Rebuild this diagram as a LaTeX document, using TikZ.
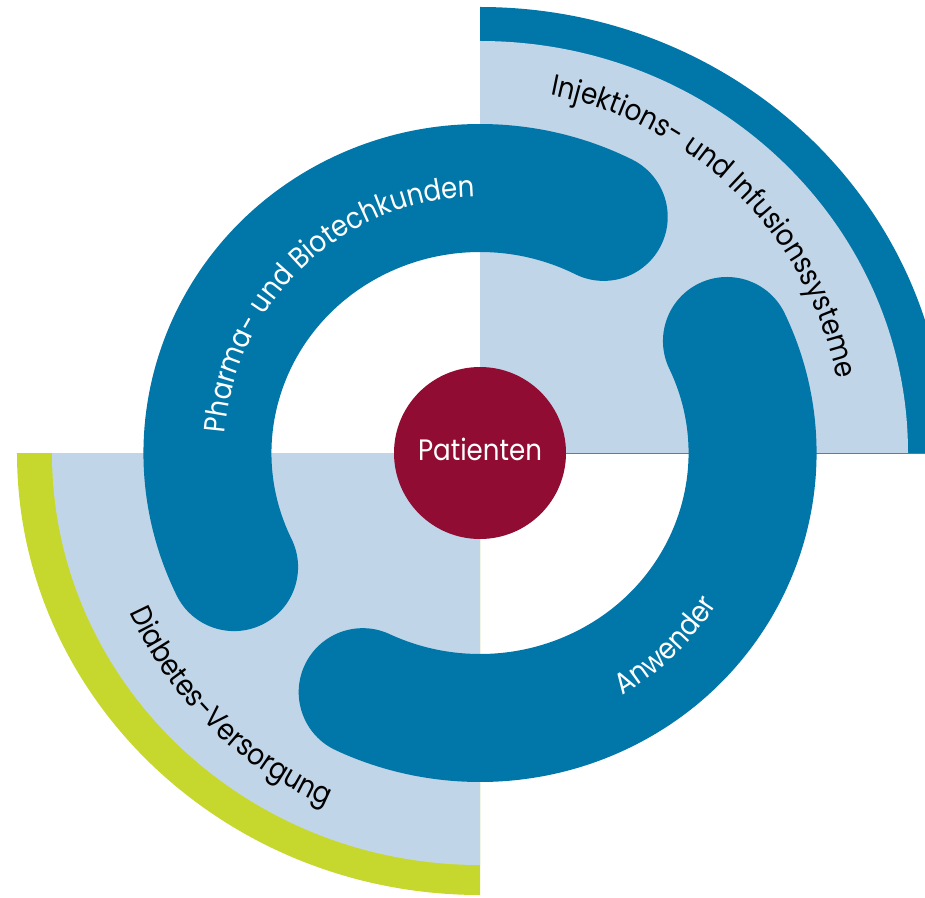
\documentclass[tikz,border=0pt]{standalone}
\usepackage{fontspec}
\setmainfont{Poppins}[FakeStretch=0.885]
\usetikzlibrary{decorations.text}
\definecolor{dblue}{RGB}{1,118,168}
\definecolor{lblue}{RGB}{193,213,232}
\definecolor{lgreen}{RGB}{198,216,46}
\definecolor{maroon}{RGB}{145,12,50}
\definecolor{edgeblue}{RGB}{60,135,190}
\newcommand\lbl{\fontsize{29.5}{36}\selectfont}
\begin{document}
\begin{tikzpicture}[x=1pt,y=1pt,
  ringarc/.style={draw=dblue, line width=128pt, line cap=round},
  arclabel/.style={decorate, decoration={text along path, text align=center, text={#1}}}]
\useasboundingbox (-480,-444) rectangle (445,453);
\clip (-480,-444) rectangle (445,453);
% top-right quadrant
\fill[dblue] (0,0) -- (0,446) arc[start angle=90, end angle=0, x radius=466pt, y radius=446pt] -- cycle;
\fill[lblue] (0,0) -- (0,412) arc[start angle=90, end angle=0, x radius=428pt, y radius=412pt] -- cycle;
\draw[edgeblue, line width=1pt] (0,0) -- (445,0);
% bottom-left quadrant
\fill[lgreen] (0,0) -- (-463,0) arc[start angle=180, end angle=270, x radius=463pt, y radius=442pt] -- cycle;
\fill[lblue] (0,0) -- (-428,0) arc[start angle=180, end angle=270, x radius=428pt, y radius=412pt] -- cycle;
% ring
\draw[ringarc] (205.5:272.5pt and 265pt) arc[start angle=205.5, end angle=63, x radius=272.5pt, y radius=265pt];
\draw[ringarc] (25:272.5pt and 265pt) arc[start angle=25, end angle=-115.5, x radius=272.5pt, y radius=265pt];
% center
\node (patc) [circle, fill=maroon, minimum size=172pt, inner sep=0pt] at (0,0) {};
\node (pat) [anchor=base, text=white, inner sep=0pt, font=\lbl] at (0,-7) {Patienten};
% labels
\path[arclabel={|\lbl\color{white}|Pharma- und Biotechkunden}] (213:256pt) arc[start angle=213, end angle=53.6, radius=256pt];
\path[arclabel={|\lbl\color{white}|Anwender}] (-96:281pt) arc[start angle=-96, end angle=4, radius=281pt];
\path[arclabel={|\lbl|Injektions- und Infusionssysteme}] (125.3:365pt) arc[start angle=125.3, end angle=-34.7, radius=365pt];
\path[arclabel={|\lbl|Diabetes-Versorgung}] (165.5:385pt) arc[start angle=165.5, end angle=285.5, radius=385pt];
\end{tikzpicture}
\end{document}
